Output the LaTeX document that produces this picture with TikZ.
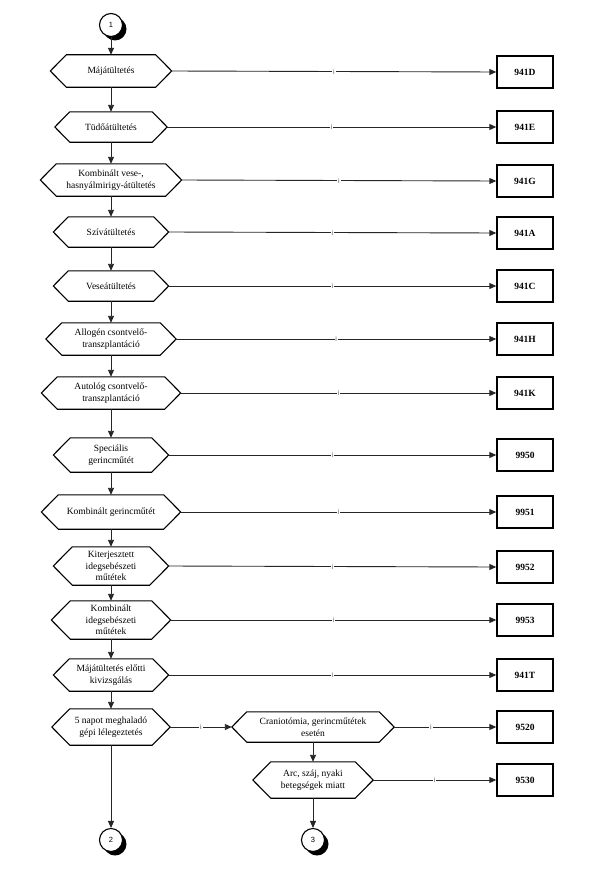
\documentclass[tikz,border=0pt]{standalone}
\usepackage{fontspec}
\setmainfont{Liberation Serif}
\newfontfamily\lsans{Liberation Sans}
\usetikzlibrary{arrows.meta}
\tikzset{
  hexbox/.style={draw=none, inner sep=0pt, align=center, font=\fontsize{9.5}{11.5}\selectfont},
  hexline/.style={draw=black, line width=1.1pt, line join=miter},
  resbox/.style={draw=black, line width=1.4pt, minimum width=56pt, minimum height=32pt, inner sep=0pt, font=\fontsize{9.5}{11}\selectfont\bfseries},
  conn/.style={draw=black!85, line width=0.9pt, -{Triangle[length=7pt,width=6pt]}},
  lbl/.style={fill=white, inner sep=0.8pt, font=\lsans\fontsize{7}{7}\selectfont, text=black!65},
  circ/.style={circle, draw=black, line width=1.1pt, fill=white, minimum size=23pt, inner sep=0pt, font=\lsans\fontsize{7.5}{8}\selectfont},
}
\newcommand\hexnd[6]{%
  \node[hexbox, minimum width=#4pt, minimum height=#5pt] (#1) at (#2,#3) {#6};
  \draw[hexline] (#1.west) -- ([xshift=#5/2*1pt]#1.north west) -- ([xshift=-#5/2*1pt]#1.north east) -- (#1.east) -- ([xshift=-#5/2*1pt]#1.south east) -- ([xshift=#5/2*1pt]#1.south west) -- cycle;
}
\newcommand\shcirc[4]{%
  \fill[black] (#2+4,#3+4) circle (11.5pt);
  \node[circ] (#1) at (#2,#3) {#4};
}
\begin{document}
\begin{tikzpicture}[x=1pt,y=-1pt]
\useasboundingbox[fill=white] (0,0) rectangle (593,891);
\shcirc{c1}{111}{25}{1}
\hexnd{h1}{111}{71}{121}{32}{Májátültetés}
\hexnd{h2}{111}{127}{112}{30}{Tüdőátültetés}
\hexnd{h3}{111}{180}{141}{32}{Kombinált vese-,\\hasnyálmirigy-átültetés}
\hexnd{h4}{111}{232}{115}{30}{Szívátültetés}
\hexnd{h5}{111}{286}{115}{30}{Veseátültetés}
\hexnd{h6}{111}{339}{130}{32}{Allogén csontvelő-\\transzplantáció}
\hexnd{h7}{111}{393}{139}{32}{Autológ csontvelő-\\transzplantáció}
\hexnd{h8}{111}{455}{115}{34}{Speciális\\gerincműtét}
\hexnd{h9}{111}{512}{139}{34}{Kombinált gerincműtét}
\hexnd{h10}{111}{566}{115}{38}{Kiterjesztett\\idegsebészeti\\műtétek}
\hexnd{h11}{111}{620}{119}{38}{Kombinált\\idegsebészeti\\műtétek}
\hexnd{h12}{111}{675}{115}{32}{Májátültetés előtti\\kivizsgálás}
\hexnd{h13}{111}{727}{118}{36}{5 napot meghaladó\\gépi lélegeztetés}
\hexnd{h14}{313}{727}{162}{30}{Craniotómia, gerincműtétek\\esetén}
\hexnd{h15}{313}{780}{120}{36}{Arc, száj, nyaki\\betegségek miatt}
\shcirc{c2}{111}{840}{2}
\shcirc{c3}{313}{840}{3}
\node[resbox] (r1) at (525,72) {941D};
\node[resbox] (r2) at (525,127) {941E};
\node[resbox] (r3) at (525,181) {941G};
\node[resbox] (r4) at (525,233) {941A};
\node[resbox] (r5) at (525,286) {941C};
\node[resbox] (r6) at (525,339) {941H};
\node[resbox] (r7) at (525,393) {941K};
\node[resbox] (r8) at (525,455) {9950};
\node[resbox] (r9) at (525,512) {9951};
\node[resbox] (r10) at (525,567) {9952};
\node[resbox] (r11) at (525,620) {9953};
\node[resbox] (r12) at (525,675) {941T};
\node[resbox] (r13) at (525,727) {9520};
\node[resbox] (r14) at (525,780) {9530};
\draw[conn] (c1) -- (h1.north);
\foreach \a/\b in {1/2,2/3,3/4,4/5,5/6,6/7,7/8,8/9,9/10,10/11,11/12,12/13}{
  \draw[conn] (h\a.south) -- (h\b.north);
}
\foreach \k in {1,...,12}{
  \draw[conn] (h\k.east) -- node[lbl]{i} (r\k.west);
}
\draw[conn] (h13.east) -- node[lbl]{i} (h14.west);
\draw[conn] (h14.east) -- node[lbl,pos=0.36]{i} (r13.west);
\draw[conn] (h15.east) -- node[lbl]{i} (r14.west);
\draw[conn] (h14.south) -- (h15.north);
\draw[conn] (h13.south) -- (c2.north);
\draw[conn] (h15.south) -- (c3.north);
\end{tikzpicture}
\end{document}
